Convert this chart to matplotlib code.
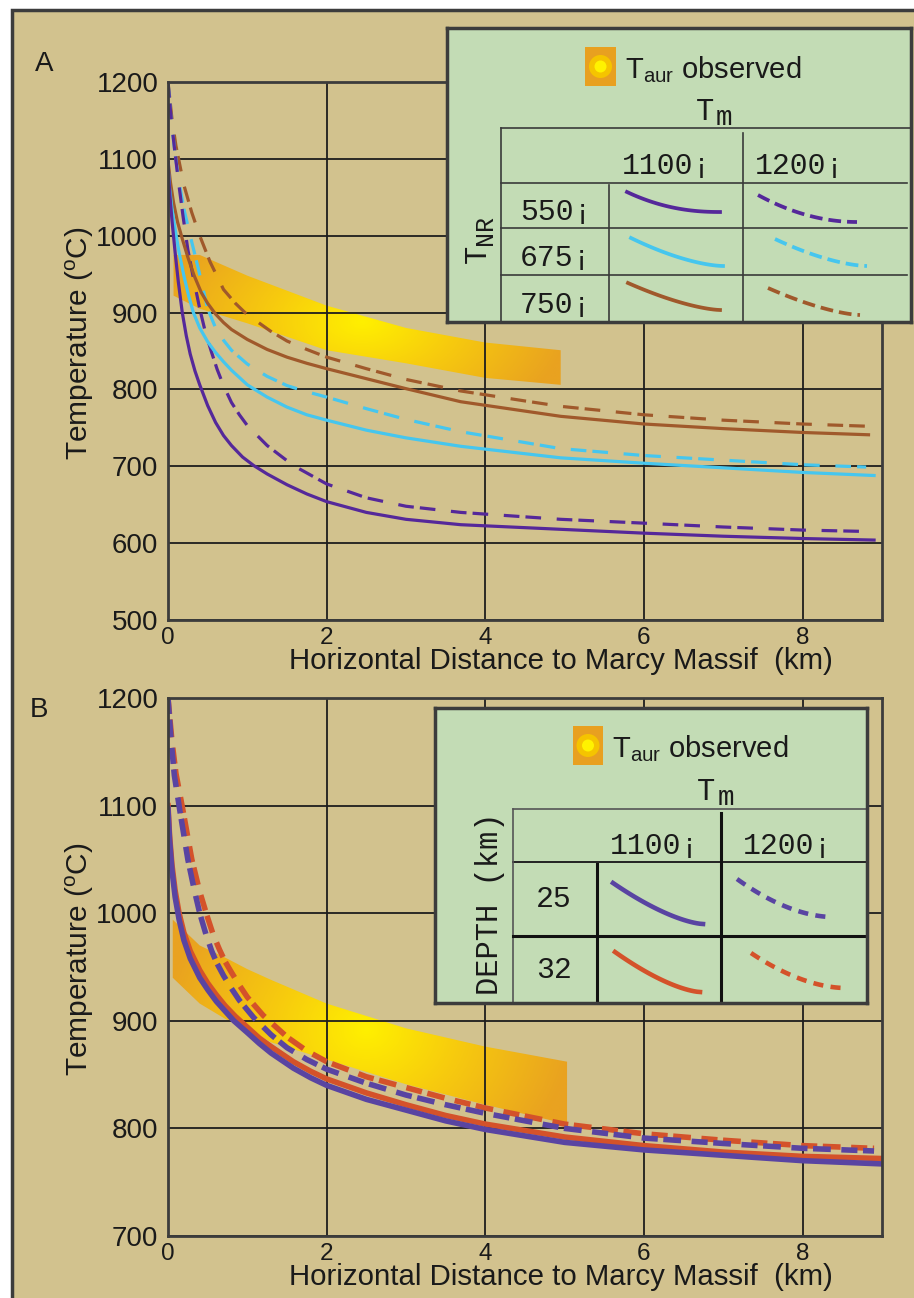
import matplotlib.pyplot as plt
import numpy as np
from matplotlib.colors import LinearSegmentedColormap
from matplotlib.patches import Rectangle, Polygon, Circle

plt.rcParams['font.family'] = ['Liberation Sans', 'DejaVu Sans']
plt.rcParams['mathtext.fontset'] = 'custom'
plt.rcParams['mathtext.rm'] = 'Liberation Sans'
plt.rcParams['mathtext.it'] = 'Liberation Sans:italic'

# ---------------- data ----------------
# panel A : T_NR = 550 / 675 / 750, T_m = 1100 (solid) / 1200 (dashed)
a550_1100_x = [0, 0.02, 0.05, 0.09, 0.13, 0.18, 0.23, 0.28, 0.34, 0.4, 0.5, 0.6, 0.7, 0.8, 0.94, 1.08,
               1.25, 1.5, 1.75, 2, 2.5, 3, 3.69, 4.95, 6, 7, 8, 8.9]
a550_1100_t = [1095, 1058, 1020, 978, 940, 900, 870, 846, 824, 806, 779, 757, 740, 727, 712, 701,
               690, 676, 664, 654, 640, 631, 624, 618, 613, 609, 606, 604]
a550_1200_x = [0, 0.04, 0.08, 0.13, 0.19, 0.25, 0.32, 0.4, 0.47, 0.55, 0.62, 0.7, 0.8, 0.9, 1.0, 1.25,
               1.58, 2, 2.5, 3, 3.69, 4.95, 6, 7, 8, 8.9]
a550_1200_t = [1200, 1152, 1115, 1072, 1025, 982, 945, 905, 875, 848, 826, 805, 783, 767, 753, 727,
               701, 677, 659, 648, 640, 631, 626, 621, 617, 615]
a675_1100_x = [0, 0.02, 0.05, 0.09, 0.14, 0.2, 0.26, 0.32, 0.4, 0.5, 0.6, 0.7, 0.8, 1.0, 1.25, 1.5,
               1.75, 2, 2.5, 3, 3.69, 4.95, 6, 7, 8, 8.9]
a675_1100_t = [1092, 1062, 1035, 1008, 978, 948, 922, 900, 880, 862, 848, 836, 825, 806, 790, 777,
               767, 760, 747, 737, 726, 711, 704, 698, 692, 688]
a675_1200_x = [0, 0.04, 0.08, 0.13, 0.2, 0.28, 0.38, 0.5, 0.6, 0.7, 0.8, 1.0, 1.25, 1.5, 1.75, 2,
               2.5, 3, 3.69, 4.95, 6, 7, 8, 8.8]
a675_1200_t = [1200, 1150, 1115, 1075, 1035, 1000, 958, 905, 880, 864, 851, 833, 817, 805, 797, 790,
               775, 761, 745, 723, 714, 708, 702, 699]
a750_1100_x = [0, 0.03, 0.07, 0.12, 0.18, 0.25, 0.33, 0.42, 0.5, 0.6, 0.7, 0.8, 1.0, 1.25, 1.5, 1.75,
               2, 2.5, 3, 3.69, 4.95, 6, 7, 8, 8.83]
a750_1100_t = [1098, 1070, 1043, 1018, 996, 972, 948, 926, 912, 898, 887, 878, 865, 852, 842, 834,
               827, 814, 801, 784, 765, 755, 749, 744, 741]
a750_1200_x = [0, 0.05, 0.1, 0.2, 0.3, 0.4, 0.53, 0.7, 0.85, 0.97, 1.1, 1.29, 1.5, 1.75, 2, 2.5,
               3, 3.69, 4.5, 4.95, 6, 7, 8, 8.85]
a750_1200_t = [1200, 1152, 1117, 1066, 1030, 1000, 966, 930, 912, 900, 890, 876, 863, 852, 842, 827,
               813, 798, 785, 778, 767, 760, 755, 752]

# observed T_aur band, panel A
bandA_x = [0.07, 0.4, 1, 2, 3, 4, 4.95]
bandA_top = [975, 975, 948, 909, 880, 861, 851]
bandA_bot = [922, 905, 886, 851, 834, 815, 806]

# panel B : depth 25 / 32 km, T_m = 1100 (solid) / 1200 (dashed)
b25_1100_x = [0, 0.02, 0.05, 0.09, 0.14, 0.2, 0.28, 0.4, 0.5, 0.61, 0.72, 0.83, 1, 1.15, 1.3, 1.58,
              1.8, 2, 2.5, 3, 3.5, 4, 5, 6, 7, 8, 9]
b25_1100_t = [1097, 1068, 1040, 1015, 994, 975, 958, 940, 929, 918, 909, 900, 889, 879, 870, 856,
              847, 840, 827, 817, 807, 799, 787, 780, 775, 770, 767]
b32_1100_x = [0, 0.02, 0.05, 0.09, 0.14, 0.2, 0.28, 0.4, 0.5, 0.61, 0.72, 0.85, 1, 1.15, 1.3, 1.58,
              1.8, 2, 2.5, 3, 3.5, 4, 5, 6, 7, 8, 9]
b32_1100_t = [1100, 1072, 1045, 1021, 1000, 982, 965, 947, 935, 924, 914, 904, 894, 884, 876, 862,
              853, 846, 833, 822, 812, 804, 792, 784, 778, 774, 772]
b25_1200_x = [0, 0.04, 0.08, 0.15, 0.25, 0.33, 0.4, 0.48, 0.55, 0.62, 0.7, 0.8, 0.9, 1.08, 1.3, 1.5,
              1.75, 2, 2.5, 3, 3.5, 4, 5, 6, 7, 8, 8.9]
b25_1200_t = [1200, 1160, 1128, 1095, 1050, 1022, 1000, 980, 965, 953, 942, 930, 919, 903, 887, 875,
              864, 855, 842, 831, 822, 814, 800, 791, 786, 781.5, 779]
b32_1200_x = [0, 0.05, 0.1, 0.19, 0.3, 0.4, 0.49, 0.57, 0.65, 0.72, 0.8, 0.9, 1.0, 1.2, 1.5, 1.75,
              2, 2.5, 3, 3.5, 4, 5, 6, 7, 8, 8.9]
b32_1200_t = [1200, 1160, 1130, 1095, 1050, 1020, 998, 980, 966, 955, 945, 933, 922, 905, 885, 872,
              862, 848, 838, 828, 819, 804, 795, 789, 784, 781.5]

bandB_x = [0.06, 0.4, 0.74, 1.0, 1.3, 2, 3, 4, 5.03]
bandB_top = [994, 970, 958, 948, 938, 916, 893, 876, 862]
bandB_bot = [940, 916, 901, 893, 880, 864, 841, 822, 804]

ticks_a = [500, 600, 700, 800, 900, 1000, 1100, 1200]
ticks_b = [700, 800, 900, 1000, 1100, 1200]
xticks = [0, 2, 4, 6, 8]
tm_labels = ['1100¡', '1200¡']
tnr_labels = ['550¡', '675¡', '750¡']
depth_labels = ['25', '32']

# ---------------- style ----------------
W, H = 914, 1298
TAN = '#D2C28E'
GREEN = '#C3DCB5'
EDGE = '#3C3C3C'
GRID = '#1E1E1E'
PURPLE_A = '#55289A'
PURPLE_B = '#5944A2'
CYAN = '#46C6EE'
BROWN = '#A0592B'
RED_B = '#D4522A'
TXT = '#1A1A1A'
MONO = ['Liberation Mono', 'DejaVu Sans Mono']

band_cmap = LinearSegmentedColormap.from_list(
    'band', [(0, '#FFF000'), (0.45, '#F7CB0E'), (1, '#E9A220')])

fig = plt.figure(figsize=(W / 100, H / 100), dpi=100)
fig.patch.set_facecolor('white')
fig.patches.append(Rectangle((12 / W, -0.02), 1.0, 1.02 - 10 / H,
                             transform=fig.transFigure, fc=TAN, ec=EDGE, lw=2.5, zorder=-10))


def px_axes(x0, y0, x1, y1):
    return fig.add_axes([x0 / W, 1 - y1 / H, (x1 - x0) / W, (y1 - y0) / H])


def draw_band(ax, bx, btop, bbot, xc, tc):
    verts = list(zip(bx, btop)) + list(zip(bx[::-1], bbot[::-1]))
    poly = Polygon(verts, closed=True, fc='none', ec='none')
    ax.add_patch(poly)
    gx = np.linspace(0, 5.4, 300)
    gt = np.linspace(770, 1010, 200)
    GX, GT = np.meshgrid(gx, gt)
    d = np.sqrt(((GX - xc) / 2.6) ** 2 + ((GT - tc) / 160) ** 2)
    im = ax.imshow(np.clip(d, 0, 1), extent=[0, 5.4, 770, 1010], origin='lower',
                   aspect='auto', cmap=band_cmap, vmin=0, vmax=1, zorder=0.2)
    im.set_clip_path(poly)


def setup_axes(ax, yticks, ylim):
    ax.set_facecolor(TAN)
    ax.set_xlim(0, 9)
    ax.set_ylim(*ylim)
    ax.set_xticks(xticks)
    ax.set_yticks(yticks)
    ax.set_axisbelow(True)
    ax.grid(True, color=GRID, lw=1.3)
    for s in ax.spines.values():
        s.set_color(EDGE)
        s.set_linewidth(2)
    ax.tick_params(axis='y', length=0, labelsize=20, pad=7, labelcolor=TXT)
    ax.tick_params(axis='x', length=0, labelsize=17.5, pad=5, labelcolor=TXT)
    ax.set_xlabel('Horizontal Distance to Marcy Massif  (km)', fontsize=21.2, color=TXT, va='top')
    ax.xaxis.set_label_coords(0.551, -0.05)
    ax.set_ylabel(r'Temperature (${}^{\mathrm{o}}$C)', fontsize=21.5, color=TXT, va='center')
    ax.yaxis.set_label_coords(-0.124, 0.515)


# ---------------- panel A ----------------
axA = px_axes(168, 82, 882, 620)
setup_axes(axA, ticks_a, (500, 1200))
draw_band(axA, bandA_x, bandA_top, bandA_bot, 2.45, 887)
dA = (4.9, 1.9, 4.9, 4.9)
lwA = 2.3
axA.plot(a750_1200_x, a750_1200_t, color=BROWN, lw=lwA, dashes=dA, zorder=2)
axA.plot(a675_1200_x, a675_1200_t, color=CYAN, lw=lwA, dashes=dA, zorder=2)
axA.plot(a550_1200_x, a550_1200_t, color=PURPLE_A, lw=lwA, dashes=dA, zorder=2)
axA.plot(a750_1100_x, a750_1100_t, color=BROWN, lw=lwA, zorder=2)
axA.plot(a675_1100_x, a675_1100_t, color=CYAN, lw=lwA, zorder=2)
axA.plot(a550_1100_x, a550_1100_t, color=PURPLE_A, lw=lwA, zorder=2)

# ---------------- panel B ----------------
axB = px_axes(168, 698, 882, 1236)
setup_axes(axB, ticks_b, (700, 1200))
draw_band(axB, bandB_x, bandB_top, bandB_bot, 2.5, 892)
dB = (2.9, 1.0, 3.2, 1.9)
lwB = 4.0
axB.plot(b32_1200_x, b32_1200_t, color=RED_B, lw=lwB, dashes=dB, zorder=2)
axB.plot(b25_1200_x, b25_1200_t, color=PURPLE_B, lw=lwB, dashes=dB, zorder=2)
axB.plot(b32_1100_x, b32_1100_t, color=RED_B, lw=lwB, zorder=2)
axB.plot(b25_1100_x, b25_1100_t, color=PURPLE_B, lw=lwB, zorder=2)

fig.text(44 / W, 1 - 64 / H, 'A', fontsize=20, ha='center', va='center', color=TXT)
fig.text(38.5 / W, 1 - 710 / H, 'B', fontsize=20, ha='center', va='center', color=TXT)


# ---------------- legend boxes ----------------
def legend_axes(x0, y0, x1, y1):
    lg = px_axes(x0, y0, x1, y1)
    lg.set_xlim(x0, x1)
    lg.set_ylim(y1, y0)
    lg.set_xticks([])
    lg.set_yticks([])
    lg.set_facecolor(GREEN)
    for s in lg.spines.values():
        s.set_color(EDGE)
        s.set_linewidth(2.5)
    return lg


def swatch(lg, x0, y0, x1, y1, color, lw, dashes=None, p=2.0):
    t = np.linspace(0, 1, 30)
    xs = x0 + (x1 - x0) * t
    ys = y0 + (y1 - y0) * (1 - (1 - t) ** p)
    kw = dict(dashes=dashes) if dashes else {}
    lg.plot(xs, ys, color=color, lw=lw, clip_on=False, **kw)


def sun_icon(lg, x0, y0, w, h):
    lg.add_patch(Rectangle((x0, y0), w, h, fc='#E8A020', ec='none'))
    lg.add_patch(Circle((x0 + w / 2, y0 + h / 2), 11.5, fc='#F5C400', ec='none'))
    lg.add_patch(Circle((x0 + w / 2, y0 + h / 2), 6, fc='#FFF200', ec='none'))


# legend A
lgA = legend_axes(447, 28, 911, 322)
sun_icon(lgA, 585, 47, 31, 39)
lgA.text(625, 78, r'T$_{\mathrm{aur}}$ observed', fontsize=21, ha='left', va='baseline', color=TXT)
lgA.text(705, 120, 'T', fontsize=22, family=MONO, ha='center', va='baseline', color=TXT)
lgA.text(724, 125, 'm', fontsize=20, family=MONO, ha='center', va='baseline', color=TXT)
lgA.plot([501, 911], [128.3, 128.3], color='#3A3A3A', lw=1.2)
for y in [182.7, 228.3, 275]:
    lgA.plot([501, 907], [y, y], color='#3A3A3A', lw=1.2)
lgA.plot([501, 501], [128.3, 322], color='#3A3A3A', lw=1.2)
lgA.plot([609.3, 609.3], [185, 322], color='#3A3A3A', lw=1.2)
lgA.plot([742.7, 742.7], [133, 322], color='#3A3A3A', lw=1.2)
for lab, xc in zip(tm_labels, [667, 800]):
    lgA.text(xc, 174.5, lab, fontsize=21.5, family=MONO, ha='center', va='baseline', color=TXT)
for lab, yb in zip(tnr_labels, [220, 265.7, 313.3]):
    lgA.text(556, yb, lab, fontsize=21.5, family=MONO, ha='center', va='baseline', color=TXT)
lgA.text(478, 254, 'T', fontsize=22, family=MONO, rotation=90, ha='center', va='center', color=TXT)
lgA.text(485, 230, 'NR', fontsize=18, family=MONO, rotation=90, ha='center', va='center', color=TXT)
dlegA = (3.4, 1.6)
swatch(lgA, 627, 192, 720, 212, PURPLE_A, 2.7, None, 2.2)
swatch(lgA, 758, 195, 857, 222, PURPLE_A, 2.7, dlegA, 2.0)
swatch(lgA, 631, 238, 723, 266, CYAN, 2.7, None, 1.6)
swatch(lgA, 775, 239, 867, 266, CYAN, 2.7, dlegA, 1.6)
swatch(lgA, 628, 283, 720, 310, BROWN, 2.7, None, 1.5)
swatch(lgA, 768, 288, 860, 315, BROWN, 2.7, dlegA, 1.5)

# legend B
lgB = legend_axes(435, 708, 867, 1003)
sun_icon(lgB, 573, 726, 30, 39)
lgB.text(611.7, 757, r'T$_{\mathrm{aur}}$ observed', fontsize=21, ha='left', va='baseline', color=TXT)
lgB.text(706, 800, 'T', fontsize=22, family=MONO, ha='center', va='baseline', color=TXT)
lgB.text(726, 805, 'm', fontsize=20, family=MONO, ha='center', va='baseline', color=TXT)
lgB.plot([512.7, 867], [809.3, 809.3], color='#555555', lw=1.2)
lgB.plot([512.7, 867], [861.7, 861.7], color='#222222', lw=1.4)
lgB.plot([512.7, 512.7], [809.3, 1003], color='#555555', lw=1.2)
lgB.plot([512.7, 867], [935.7, 935.7], color='#111111', lw=2.2)
lgB.plot([596.7, 596.7], [864, 1003], color='#111111', lw=2.2)
lgB.plot([720.7, 720.7], [813, 1003], color='#111111', lw=2.2)
for lab, xc in zip(tm_labels, [655, 788]):
    lgB.text(xc, 854.5, lab, fontsize=21.5, family=MONO, ha='center', va='baseline', color=TXT)
for lab, yb in zip(depth_labels, [906.7, 978.3]):
    lgB.text(554, yb, lab, fontsize=21.5, family=MONO, ha='center', va='baseline', color=TXT)
lgB.text(490, 904, 'DEPTH (km)', fontsize=22, family=MONO, rotation=90, ha='center', va='center', color=TXT)
dlegB = (2.2, 1.6)
swatch(lgB, 613, 883, 703, 924, PURPLE_B, 3.3, None, 1.5)
swatch(lgB, 737, 879, 832, 917, PURPLE_B, 3.3, dlegB, 1.8)
swatch(lgB, 615, 952, 700, 992, RED_B, 3.3, None, 1.5)
swatch(lgB, 751, 953, 845, 988, RED_B, 3.3, dlegB, 1.8)

fig.savefig('out.png', dpi=100, facecolor=fig.get_facecolor())
